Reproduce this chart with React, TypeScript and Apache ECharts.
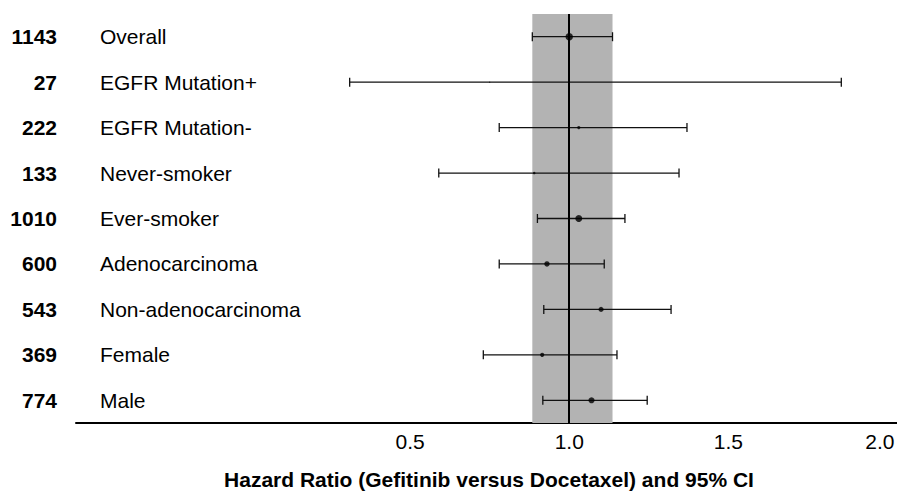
import React, { useEffect, useRef } from "react";
import * as echarts from "echarts";

const categories = [
  "Overall",
  "EGFR Mutation+",
  "EGFR Mutation-",
  "Never-smoker",
  "Ever-smoker",
  "Adenocarcinoma",
  "Non-adenocarcinoma",
  "Female",
  "Male",
];
const patients = [1143, 27, 222, 133, 1010, 600, 543, 369, 774];
const hazardRatio = [1.0, 0.75, 1.03, 0.89, 1.03, 0.93, 1.1, 0.915, 1.07];
const ciLower = [0.884, 0.31, 0.78, 0.59, 0.9, 0.78, 0.92, 0.73, 0.917];
const ciUpper = [1.136, 1.855, 1.37, 1.345, 1.175, 1.11, 1.32, 1.15, 1.245];
const xTicks = [0.5, 1.0, 1.5, 2.0];
const referenceValue = 1.0;
const xTitle = "Hazard Ratio (Gefitinib versus Docetaxel) and 95% CI";

const FONT = "'Liberation Sans', Arial, Helvetica, sans-serif";

export default function App() {
  const ref = useRef<HTMLDivElement>(null);
  useEffect(() => {
    if (!ref.current) return;
    const chart = echarts.init(ref.current, null, { renderer: "svg" });
    const ciData = categories.map((_, i) => [i, ciLower[i], ciUpper[i]]);
    const pointData = categories.map((_, i) => [hazardRatio[i], i]);
    const lastTick = xTicks[xTicks.length - 1];
    const option: any = {
      animation: false,
      backgroundColor: "#fff",
      grid: {
        left: 76,
        top: 14,
        width: 821,
        height: 409,
        containLabel: false,
        outerBoundsMode: "none",
      },
      xAxis: {
        type: "value",
        min: -0.55,
        max: 2.03,
        axisLine: { show: true, onZero: false, lineStyle: { color: "#000", width: 2 } },
        axisTick: { show: false },
        splitLine: { show: false },
        axisLabel: {
          customValues: xTicks,
          formatter: (v: number) =>
            Math.abs(v - lastTick) < 1e-9 ? `{edge|${v.toFixed(1)}}` : `{n|${v.toFixed(1)}}`,
          color: "#000",
          fontFamily: FONT,
          fontSize: 21,
          margin: 8,
          hideOverlap: false,
          rich: {
            n: { fontFamily: FONT, fontSize: 21, color: "#000" },
            edge: { fontFamily: FONT, fontSize: 21, color: "#000", padding: [0, 15, 0, 0] },
          },
        },
        name: xTitle,
        nameLocation: "middle",
        nameGap: 47,
        nameTextStyle: {
          color: "#000",
          fontFamily: FONT,
          fontSize: 21,
          lineHeight: 19,
          fontWeight: "bold",
          padding: [0, 0, 0, 5],
        },
      },
      yAxis: [
        {
          type: "category",
          data: categories,
          inverse: true,
          axisLine: { show: false },
          axisTick: { show: false },
          splitLine: { show: false },
          axisLabel: {
            inside: true,
            margin: 24,
            align: "left",
            color: "#000",
            fontFamily: FONT,
            fontSize: 21,
          },
        },
        {
          type: "category",
          data: patients.map(String),
          inverse: true,
          position: "left",
          axisLine: { show: false },
          axisTick: { show: false },
          splitLine: { show: false },
          axisLabel: {
            margin: 19,
            align: "right",
            color: "#000",
            fontFamily: FONT,
            fontSize: 21,
            fontWeight: "bold",
          },
        },
      ],
      series: [
        {
          type: "scatter",
          z: 1,
          data: [],
          silent: true,
          markArea: {
            silent: true,
            itemStyle: { color: "#b3b3b3" },
            data: [[{ xAxis: ciLower[0] }, { xAxis: ciUpper[0] }]],
          },
          markLine: {
            silent: true,
            symbol: "none",
            label: { show: false },
            lineStyle: { color: "#000", width: 2, type: "solid" },
            data: [{ xAxis: referenceValue }],
          },
        },
        {
          type: "custom",
          z: 3,
          silent: true,
          encode: { x: [1, 2], y: 0 },
          data: ciData,
          renderItem: (params: any, api: any) => {
            const idx = api.value(0);
            const lo = api.coord([api.value(1), idx]);
            const hi = api.coord([api.value(2), idx]);
            const cap = 4.5;
            const style = { stroke: "#111", lineWidth: 1.3 };
            return {
              type: "group",
              children: [
                { type: "line", shape: { x1: lo[0], y1: lo[1], x2: hi[0], y2: hi[1] }, style },
                { type: "line", shape: { x1: lo[0], y1: lo[1] - cap, x2: lo[0], y2: lo[1] + cap }, style },
                { type: "line", shape: { x1: hi[0], y1: hi[1] - cap, x2: hi[0], y2: hi[1] + cap }, style },
              ],
            };
          },
        },
        {
          type: "scatter",
          z: 4,
          silent: true,
          data: pointData,
          symbol: "circle",
          symbolSize: (_v: any, p: any) => 0.22 * Math.sqrt(patients[p.dataIndex]),
          itemStyle: { color: "#000" },
        },
      ],
    };
    chart.setOption(option);
    return () => chart.dispose();
  }, []);
  return (
    <div
      ref={ref}
      style={{ position: "absolute", left: 0, top: 0, width: 897, height: 491 }}
    />
  );
}
